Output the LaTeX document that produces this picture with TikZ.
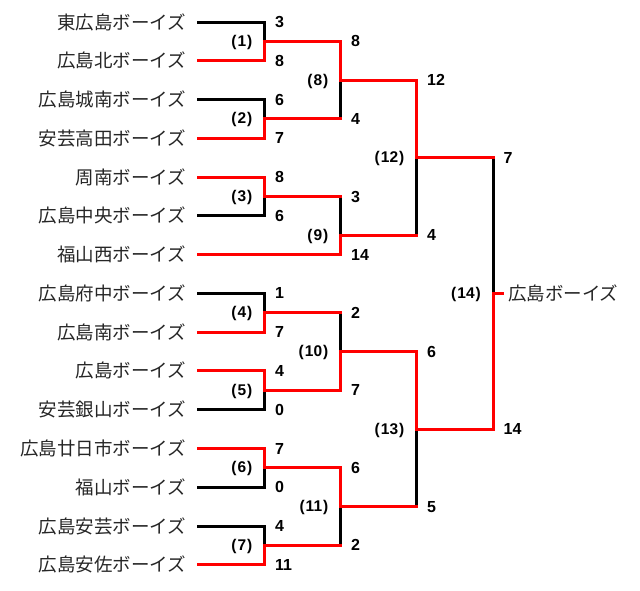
\documentclass[tikz,border=0pt]{standalone}
\usepackage{fontspec}
\setmainfont{Noto Sans CJK JP}
\newfontfamily\numfont{Liberation Sans}
\newcommand{\mno}[1]{(\kern1pt#1\kern1pt)}
\begin{document}
\begin{tikzpicture}[x=1pt,y=-1pt,
    team/.style={anchor=east,inner sep=0pt,outer xsep=12pt,text=black!85,font=\fontsize{18.5}{18.5}\selectfont},
    score/.style={anchor=west,inner sep=0pt,font=\numfont\bfseries\fontsize{16}{16}\selectfont},
    match/.style={anchor=east,inner sep=0pt,font=\numfont\bfseries\fontsize{15.5}{15.5}\selectfont},
    win/.style={draw=red,line width=3pt,line cap=rect},
    lose/.style={draw=black,line width=3pt,line cap=rect}]
    \useasboundingbox (0,0) rectangle (640,590);
    % teams
    \node[team] (t0) at (198,22) {東広島ボーイズ};
    \node[team] (t1) at (198,60.8) {広島北ボーイズ};
    \node[team] (t2) at (198,99.5) {広島城南ボーイズ};
    \node[team] (t3) at (198,138.3) {安芸高田ボーイズ};
    \node[team] (t4) at (198,177.1) {周南ボーイズ};
    \node[team] (t5) at (198,215.9) {広島中央ボーイズ};
    \node[team] (t6) at (198,254.6) {福山西ボーイズ};
    \node[team] (t7) at (198,293.4) {広島府中ボーイズ};
    \node[team] (t8) at (198,332.2) {広島南ボーイズ};
    \node[team] (t9) at (198,370.9) {広島ボーイズ};
    \node[team] (t10) at (198,409.7) {安芸銀山ボーイズ};
    \node[team] (t11) at (198,448.5) {広島廿日市ボーイズ};
    \node[team] (t12) at (198,487.2) {福山ボーイズ};
    \node[team] (t13) at (198,526) {広島安芸ボーイズ};
    \node[team] (t14) at (198,564.8) {広島安佐ボーイズ};
    \node[team,anchor=west,outer xsep=6pt] (champ) at (502,293.4) {広島ボーイズ};
    % junctions
    \coordinate (j1) at (264.5,41.4);
    \coordinate (j2) at (264.5,118.9);
    \coordinate (j3) at (264.5,196.5);
    \coordinate (j4) at (264.5,312.8);
    \coordinate (j5) at (264.5,390.3);
    \coordinate (j6) at (264.5,467.9);
    \coordinate (j7) at (264.5,545.4);
    \coordinate (j8) at (340.5,80.2);
    \coordinate (j9) at (340.5,235.3);
    \coordinate (j10) at (340.5,351.5);
    \coordinate (j11) at (340.5,506.6);
    \coordinate (j12) at (416.5,157.7);
    \coordinate (j13) at (416.5,429);
    \coordinate (j14) at (493,293.4);
    % losers
    \draw[lose] (t0.east) -| (j1);
    \draw[lose] (t2.east) -| (j2);
    \draw[lose] (t5.east) -| (j3);
    \draw[lose] (t7.east) -| (j4);
    \draw[lose] (t10.east) -| (j5);
    \draw[lose] (t12.east) -| (j6);
    \draw[lose] (t13.east) -| (j7);
    \draw[lose] (j2 -| j8) -- (j8);
    \draw[lose] (j3 -| j9) -- (j9);
    \draw[lose] (j4 -| j10) -- (j10);
    \draw[lose] (j7 -| j11) -- (j11);
    \draw[lose] (j9 -| j12) -- (j12);
    \draw[lose] (j11 -| j13) -- (j13);
    \draw[lose] (j12 -| j14) -- (j14);
    % winners
    \draw[win] (t1.east) -| (j1);
    \draw[win] (t3.east) -| (j2);
    \draw[win] (t4.east) -| (j3);
    \draw[win] (t8.east) -| (j4);
    \draw[win] (t9.east) -| (j5);
    \draw[win] (t11.east) -| (j6);
    \draw[win] (t14.east) -| (j7);
    \draw[win] (t6.east) -| (j9);
    \draw[win] (j1) -| (j8);
    \draw[win] (j2) -- (j2 -| j8);
    \draw[win] (j3) -- (j3 -| j9);
    \draw[win] (j4) -- (j4 -| j10);
    \draw[win] (j5) -| (j10);
    \draw[win] (j6) -| (j11);
    \draw[win] (j7) -- (j7 -| j11);
    \draw[win] (j8) -| (j12);
    \draw[win] (j9) -- (j9 -| j12);
    \draw[win] (j10) -| (j13);
    \draw[win] (j11) -- (j11 -| j13);
    \draw[win] (j12) -- (j12 -| j14);
    \draw[win] (j13) -| (j14);
    \draw[win] (j14) -- (champ.west);
    % scores
    \node[score] (s0) at (275,22) {3};
    \node[score] (s1) at (275,60.8) {8};
    \node[score] (s2) at (275,99.5) {6};
    \node[score] (s3) at (275,138.3) {7};
    \node[score] (s4) at (275,177.1) {8};
    \node[score] (s5) at (275,215.9) {6};
    \node[score] (s7) at (275,293.4) {1};
    \node[score] (s8) at (275,332.2) {7};
    \node[score] (s9) at (275,370.9) {4};
    \node[score] (s10) at (275,409.7) {0};
    \node[score] (s11) at (275,448.5) {7};
    \node[score] (s12) at (275,487.2) {0};
    \node[score] (s13) at (275,526) {4};
    \node[score] (s14) at (275,564.8) {11};
    \node[score] (s1a) at (351,41.4) {8};
    \node[score] (s2a) at (351,118.9) {4};
    \node[score] (s3a) at (351,196.5) {3};
    \node[score] (s6a) at (351,254.6) {14};
    \node[score] (s4a) at (351,312.8) {2};
    \node[score] (s5a) at (351,390.3) {7};
    \node[score] (s6b) at (351,467.9) {6};
    \node[score] (s7a) at (351,545.4) {2};
    \node[score] (s8a) at (427,80.2) {12};
    \node[score] (s9a) at (427,235.3) {4};
    \node[score] (s10a) at (427,351.5) {6};
    \node[score] (s11a) at (427,506.6) {5};
    \node[score] (s12a) at (503.5,157.7) {7};
    \node[score] (s13a) at (503.5,429) {14};
    % match numbers
    \node[match] (m1) at (252.5,42.4) {\mno{1}};
    \node[match] (m2) at (252.5,119.9) {\mno{2}};
    \node[match] (m3) at (252.5,197.5) {\mno{3}};
    \node[match] (m4) at (252.5,313.8) {\mno{4}};
    \node[match] (m5) at (252.5,391.3) {\mno{5}};
    \node[match] (m6) at (252.5,468.9) {\mno{6}};
    \node[match] (m7) at (252.5,546.4) {\mno{7}};
    \node[match] (m8) at (328.5,81.2) {\mno{8}};
    \node[match] (m9) at (328.5,236.3) {\mno{9}};
    \node[match] (m10) at (328.5,352.5) {\mno{10}};
    \node[match] (m11) at (328.5,507.6) {\mno{11}};
    \node[match] (m12) at (404.5,158.7) {\mno{12}};
    \node[match] (m13) at (404.5,430) {\mno{13}};
    \node[match] (m14) at (481,294.4) {\mno{14}};
\end{tikzpicture}
\end{document}
